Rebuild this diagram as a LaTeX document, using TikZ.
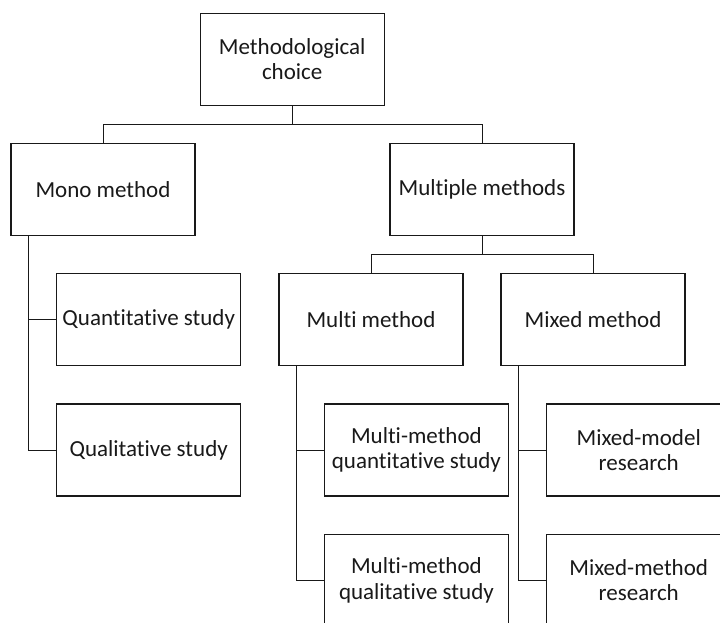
\documentclass[tikz,border=0pt]{standalone}
\usepackage{fontspec}
\setmainfont{Carlito}[RawFeature={-liga;-clig;-dlig}]
\begin{document}
\begin{tikzpicture}[x=1pt,y=1pt,
  box/.style={draw=black!90, line width=1.1pt, fill=white, minimum width=184pt, minimum height=92pt,
    inner sep=0pt, align=center, text=black!90, font=\fontsize{23}{25.5}\selectfont},
  link/.style={draw=black!90, line width=1pt}]
\useasboundingbox (0,0) rectangle (720,-622);
\clip (0,0) rectangle (720,-622);

% boxes
\node[box] (choice)    at (292.2,-59.3)  {Methodological\\choice};
\node[box] (mono)      at (103,-189.5)   {Mono method};
\node[box] (multiple)  at (482,-189.5)   {Multiple methods};
\node[box] (quant)     at (148.7,-319.7) {Quantitative study};
\node[box] (qual)      at (148.7,-450)   {Qualitative study};
\node[box] (multi)     at (371,-319.8)   {Multi method};
\node[box] (mixed)     at (593,-319.8)   {Mixed method};
\node[box] (mmquant)   at (416.4,-450)   {Multi-method\\quantitative study};
\node[box] (mmqual)    at (416.4,-580.3) {Multi-method\\qualitative study};
\node[box] (mixmodel)  at (638.7,-450)   {Mixed-model\\research};
\node[box] (mixmethod) at (638.7,-580.3) {Mixed-method\\research};

% junctions of the tree
\coordinate (j0) at (292.2,-124.3);
\coordinate (j1) at (482,-254.3);

% top level
\draw[link] (choice.south) -- (j0);
\draw[link] (mono.north) |- (j0) -| (multiple.north);

% mono method branch
\draw[link] ([xshift=18.3pt]mono.south west) |- (quant.west);
\draw[link] ([xshift=18.3pt]mono.south west) |- (qual.west);

% multiple methods branch
\draw[link] (multiple.south) -- (j1);
\draw[link] (multi.north) |- (j1) -| (mixed.north);

% multi method branch
\draw[link] ([xshift=18.3pt]multi.south west) |- (mmquant.west);
\draw[link] ([xshift=18.3pt]multi.south west) |- (mmqual.west);

% mixed method branch
\draw[link] ([xshift=18.3pt]mixed.south west) |- (mixmodel.west);
\draw[link] ([xshift=18.3pt]mixed.south west) |- (mixmethod.west);
\end{tikzpicture}
\end{document}
